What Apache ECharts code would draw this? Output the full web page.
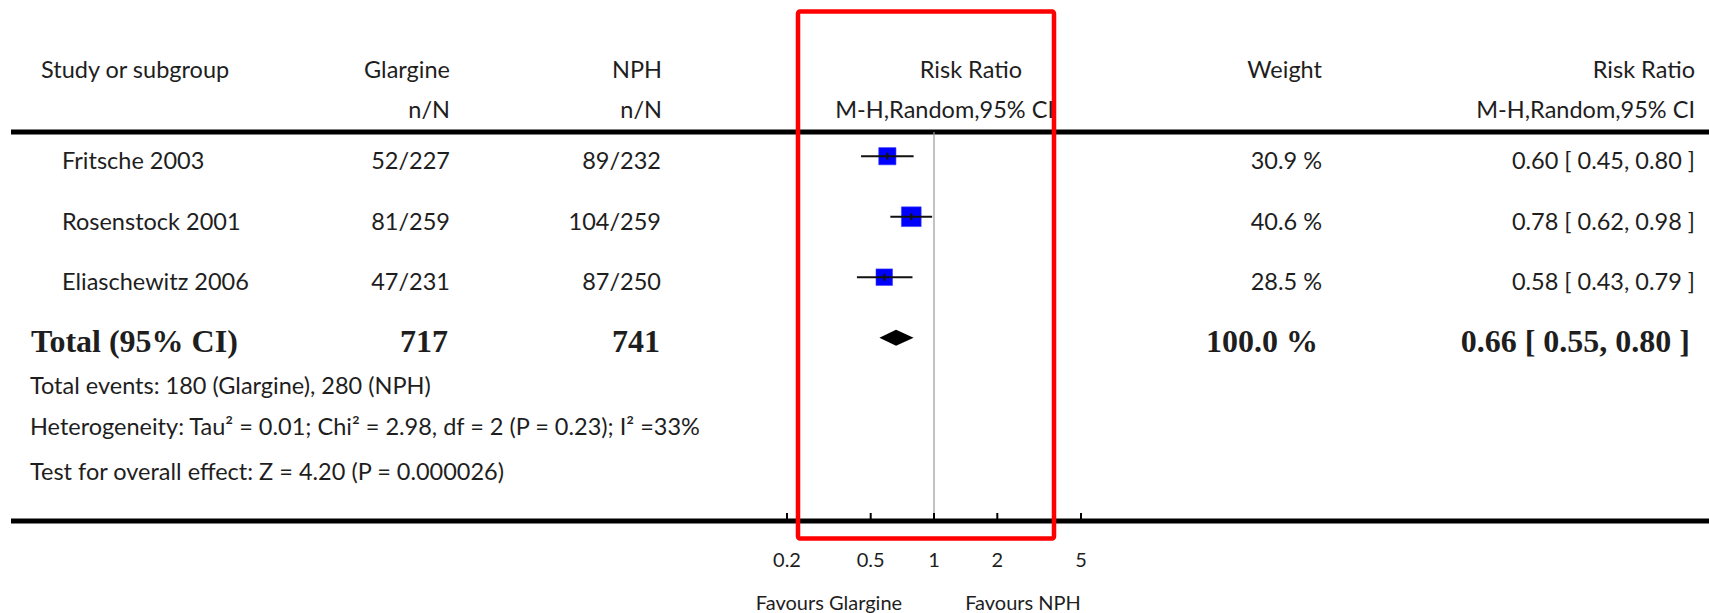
<!DOCTYPE html>
<html>
<head>
<meta charset="utf-8">
<title>Glargine vs NPH – Risk Ratio</title>
<script src="https://cdn.jsdelivr.net/npm/echarts@6/dist/echarts.min.js"></script>
<style>
  html, body { margin: 0; padding: 0; background: #ffffff; }
  #chart { width: 1709px; height: 613px; }
</style>
</head>
<body>
<div id="chart"></div>
<script>
// ---- data ----
const studies = ['Fritsche 2003', 'Rosenstock 2001', 'Eliaschewitz 2006'];
const glargineEvents = [52, 81, 47];
const glargineTotal = [227, 259, 231];
const nphEvents = [89, 104, 87];
const nphTotal = [232, 259, 250];
const weights = [30.9, 40.6, 28.5];
const rrEstimate = [0.60, 0.78, 0.58];
const rrLower = [0.45, 0.62, 0.43];
const rrUpper = [0.80, 0.98, 0.79];
const pooledEstimate = 0.66;
const pooledLower = 0.55;
const pooledUpper = 0.80;
const pooledWeight = 100.0;
const axisTickValues = [0.2, 0.5, 1, 2, 5];
const headerTop = ['Study or subgroup', 'Glargine', 'NPH', 'Risk Ratio', 'Weight', 'Risk Ratio'];
const headerSub = ['n/N', 'n/N', 'M-H,Random,95% CI', 'M-H,Random,95% CI'];
const favourLabels = ['Favours Glargine', 'Favours NPH'];
const heterogeneityText = 'Heterogeneity: Tau\u00B2 = 0.01; Chi\u00B2 = 2.98, df = 2 (P = 0.23); I\u00B2 =33%';
const overallEffectText = 'Test for overall effect: Z = 4.20 (P = 0.000026)';

// ---- derived text ----
const sum = a => a.reduce((s, v) => s + v, 0);
const ciText = (e, l, u) => e.toFixed(2) + ' [ ' + l.toFixed(2) + ', ' + u.toFixed(2) + ' ]';
const totalEventsText = 'Total events: ' + sum(glargineEvents) + ' (Glargine), ' + sum(nphEvents) + ' (NPH)';

// ---- styling ----
const SANS = 'Lato, "Open Sans", sans-serif';
const REG = '23.5px ' + SANS;
const SMALL = '20px ' + SANS;
const BOLD = 'bold 32px "Liberation Serif", "DejaVu Serif", serif';
const INK = '#1e1e1e';
const COL = { name: 62, glargine: 450, nph: 661, weight: 1322, rr: 1695 };
const TEXT_DY = 4;

function txt(x, y, text, align, font) {
  return {
    type: 'text', x: x, y: y,
    style: { text: text, font: font || REG, fill: INK, textAlign: align || 'left', textVerticalAlign: 'middle' }
  };
}

const chart = echarts.init(document.getElementById('chart'), null, { renderer: 'svg' });

const studyData = studies.map((s, i) => [rrEstimate[i], rrLower[i], rrUpper[i], weights[i], i + 1]);
const pooledRow = studies.length + 1;

const option = {
  animation: false,
  backgroundColor: '#ffffff',
  grid: { left: 787, right: 628, top: 132, bottom: 92 },
  xAxis: { type: 'log', logBase: 10, min: 0.2, max: 5, show: false },
  yAxis: { type: 'value', min: 0.6, max: 7.03, inverse: true, show: false },
  graphic: [
    // table rules
    { type: 'line', shape: { x1: 11, y1: 132, x2: 1709, y2: 132 }, style: { stroke: '#000', lineWidth: 5 } },
    { type: 'line', shape: { x1: 11, y1: 521, x2: 1709, y2: 521 }, style: { stroke: '#000', lineWidth: 5 } },
    // header
    txt(41, 69, headerTop[0]),
    txt(450, 69, headerTop[1], 'right'),
    txt(662, 69, headerTop[2], 'right'),
    txt(1022, 69, headerTop[3], 'right'),
    txt(1322, 69, headerTop[4], 'right'),
    txt(1695, 69, headerTop[5], 'right'),
    txt(450, 109, headerSub[0], 'right'),
    txt(662, 109, headerSub[1], 'right'),
    txt(1054, 109, headerSub[2], 'right'),
    txt(1695, 109, headerSub[3], 'right'),
    // footnotes
    txt(30, 385, totalEventsText),
    txt(30, 426, heterogeneityText),
    txt(30, 471, overallEffectText),
    // direction labels
    txt(829, 602, favourLabels[0], 'center', SMALL),
    txt(1023, 602, favourLabels[1], 'center', SMALL),
    // highlight frame around the plot column
    {
      type: 'rect', z: 100,
      shape: { x: 798, y: 11.5, width: 256, height: 527, r: 2 },
      style: { fill: 'none', stroke: '#ff0000', lineWidth: 4.5 }
    }
  ],
  series: [
    {
      // line of no effect at RR = 1
      type: 'custom', name: 'noEffect', clip: false, silent: true,
      data: [[1, 1]],
      renderItem: function (params, api) {
        const x = api.coord([api.value(0), 1])[0];
        const cs = params.coordSys;
        return { type: 'line', shape: { x1: x, y1: cs.y, x2: x, y2: cs.y + cs.height }, style: { stroke: '#9a9a9a', lineWidth: 1.2 } };
      }
    },
    {
      // axis ticks and their labels
      type: 'custom', name: 'axisTicks', clip: false, silent: true,
      data: axisTickValues.map(v => [v, 1]),
      renderItem: function (params, api) {
        const v = api.value(0);
        const x = api.coord([v, 1])[0];
        const yb = params.coordSys.y + params.coordSys.height;
        return {
          type: 'group', children: [
            { type: 'rect', shape: { x: x - 1, y: yb - 8, width: 2, height: 8 }, style: { fill: '#000' } },
            txt(x, yb + 38, String(v), 'center', SMALL)
          ]
        };
      }
    },
    {
      // study estimates with confidence intervals
      type: 'custom', name: 'studies', clip: false,
      encode: { x: [0, 1, 2], y: 4 },
      data: studyData,
      renderItem: function (params, api) {
        const row = api.value(4);
        const c = api.coord([api.value(0), row]);
        const lo = api.coord([api.value(1), row]);
        const hi = api.coord([api.value(2), row]);
        const s = 3.1 * Math.sqrt(api.value(3));
        return {
          type: 'group', children: [
            { type: 'rect', shape: { x: c[0] - s / 2, y: c[1] - s / 2, width: s, height: s }, style: { fill: '#0000ff', stroke: '#4040ff', lineWidth: 0.6 } },
            { type: 'line', shape: { x1: lo[0], y1: c[1], x2: hi[0], y2: c[1] }, style: { stroke: '#111', lineWidth: 2 } },
            { type: 'line', shape: { x1: c[0], y1: c[1] - 3.5, x2: c[0], y2: c[1] + 3.5 }, style: { stroke: '#111', lineWidth: 2 } }
          ]
        };
      }
    },
    {
      // pooled estimate diamond
      type: 'custom', name: 'pooled', clip: false,
      encode: { x: [0, 1, 2], y: 3 },
      data: [[pooledEstimate, pooledLower, pooledUpper, pooledRow]],
      renderItem: function (params, api) {
        const row = api.value(3);
        const c = api.coord([api.value(0), row]);
        const lo = api.coord([api.value(1), row]);
        const hi = api.coord([api.value(2), row]);
        return {
          type: 'polygon',
          shape: { points: [[lo[0], c[1]], [c[0], c[1] - 8], [hi[0], c[1]], [c[0], c[1] + 8]] },
          style: { fill: '#000' }
        };
      }
    },
    {
      // table text for each study row
      type: 'custom', name: 'studyTable', clip: false, silent: true,
      encode: { x: 0, y: 1 },
      data: studies.map((s, i) => [rrEstimate[i], i + 1]),
      renderItem: function (params, api) {
        const i = params.dataIndex;
        const y = api.coord([1, api.value(1)])[1] + TEXT_DY;
        return {
          type: 'group', children: [
            txt(COL.name, y, studies[i]),
            txt(COL.glargine, y, glargineEvents[i] + '/' + glargineTotal[i], 'right'),
            txt(COL.nph, y, nphEvents[i] + '/' + nphTotal[i], 'right'),
            txt(COL.weight, y, weights[i].toFixed(1) + ' %', 'right'),
            txt(COL.rr, y, ciText(rrEstimate[i], rrLower[i], rrUpper[i]), 'right')
          ]
        };
      }
    },
    {
      // pooled row text
      type: 'custom', name: 'pooledTable', clip: false, silent: true,
      encode: { x: 0, y: 1 },
      data: [[pooledEstimate, pooledRow]],
      renderItem: function (params, api) {
        const y = api.coord([1, api.value(1)])[1] + 3;
        return {
          type: 'group', children: [
            txt(31, y, 'Total (95% CI)', 'left', BOLD),
            txt(COL.glargine - 2, y, String(sum(glargineTotal)), 'right', BOLD),
            txt(COL.nph - 1, y, String(sum(nphTotal)), 'right', BOLD),
            txt(COL.weight - 4, y, pooledWeight.toFixed(1) + ' %', 'right', BOLD),
            txt(COL.rr - 5, y, ciText(pooledEstimate, pooledLower, pooledUpper), 'right', BOLD)
          ]
        };
      }
    }
  ]
};

chart.setOption(option);
</script>
</body>
</html>
